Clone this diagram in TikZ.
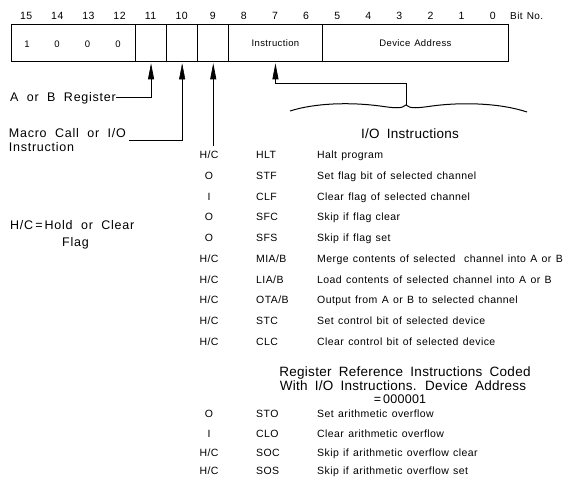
\documentclass[tikz,border=0pt]{standalone}
\usepackage{fontspec}
\setmainfont{Liberation Sans}
\newfontfamily\trk[LetterSpace=4,WordSpace=1.3]{Liberation Sans}
\newfontfamily\ttk[LetterSpace=2,WordSpace=1.8]{Liberation Sans}
\newfontfamily\lbk[LetterSpace=6,WordSpace=2]{Liberation Sans}
\newfontfamily\btk[LetterSpace=5,WordSpace=1.5]{Liberation Sans}
\usetikzlibrary{arrows.meta}
\newcommand\bitfont{\btk\fontsize{10.5}{12}\selectfont}
\newcommand\boxfont{\trk\fontsize{9.5}{11}\selectfont}
\newcommand\tblfont{\trk\fontsize{10.5}{12}\selectfont}
\newcommand\ttlfont{\ttk\fontsize{13.5}{15}\selectfont}
\newcommand\labfont{\lbk\fontsize{12.5}{14}\selectfont}
\begin{document}
\begin{tikzpicture}[x=1pt,y=-1pt,
  field/.style={draw, line width=0.8pt, minimum height=37pt, inner sep=0pt, anchor=north west, font=\boxfont},
  txt/.style={inner sep=0pt, text height=7pt, text depth=0pt},
  bitlab/.style={txt, font=\bitfont, text height=7.5pt},
  tbl/.style={txt, font=\tblfont, text height=7.6pt},
  flg/.style={tbl},
  mn/.style={tbl, anchor=west},
  ds/.style={tbl, anchor=west},
  ttl/.style={txt, font=\ttlfont, text height=9.7pt},
  lab/.style={txt, font=\labfont, text height=9pt},
  arr/.style={-{Triangle[width=6pt,length=16pt]}, line width=0.7pt},
  conn/.style={line width=0.7pt}]
\useasboundingbox (0,0) rectangle (563,479);
% register fields
\node[field, minimum width=124.4pt] (f1512) at (10.7,24) {};
\node[field, minimum width=31.1pt] (f11) at (135.1,24) {};
\node[field, minimum width=31.1pt] (f10) at (166.2,24) {};
\node[field, minimum width=31.1pt] (f9) at (197.3,24) {};
\node[field, minimum width=93.3pt] (f86) at (228.4,24) {Instruction};
\node[field, minimum width=186.6pt] (f50) at (321.7,24) {Device Address};
% fixed bits
\node[txt, font=\boxfont, text height=7pt] (d15) at (27,44) {1};
\node[txt, font=\boxfont, text height=7pt] (d14) at (57,44) {0};
\node[txt, font=\boxfont, text height=7pt] (d13) at (87.5,44) {0};
\node[txt, font=\boxfont, text height=7pt] (d12) at (118,44) {0};
% bit numbers
\foreach \i in {0,...,15} {
  \node[bitlab] (b\i) at ({492.7-31.1*\i},16) {\i};
}
\node[bitlab, anchor=west, font=\trk\fontsize{10}{12}\selectfont] (bitno) at (510,16) {Bit No.};
% left labels
\node[lab, anchor=east] (lab) at (116,97) {A or B Register};
\node[lab, anchor=east, align=left, text height=, text depth=] (lmacro) at (126,140) {Macro Call or I/O\\Instruction};
\node[lab, anchor=west] (lhc) at (10,225) {H/C\,=\,Hold or Clear};
\node[lab, anchor=west] (lflag) at (62,242) {Flag};
\draw[arr] (lab.east) -| ([yshift=-1.5pt]f11.south);
\draw[arr, line width=0.5pt] ([xshift=3pt]lmacro.east) -| ([yshift=-1.5pt]f10.south);
% I/O instructions
\node[ttl] (iot) at (410,134) {I/O Instructions};
\coordinate (cusp) at (406,105);
\coordinate (elbow) at (406,83);
\draw[line width=1pt] (290,111) .. controls (315,103) and (350,102) .. (380,106)
   .. controls (394,108) and (402,109) .. (cusp)
   .. controls (410,109) and (418,108) .. (432,106)
   .. controls (462,102) and (500,103) .. (527,112);
\draw[arr] (cusp) -- (elbow) -| ([yshift=-1.5pt]f86.south);
% I/O table
\node[flg] (g1) at (209,155.0) {H/C};
\node[mn] (m1) at (256,155.0) {HLT};
\node[ds] (t1) at (317,155.0) {Halt program};
\node[flg] (g2) at (209,175.7) {O};
\node[mn] (m2) at (256,175.7) {STF};
\node[ds] (t2) at (317,175.7) {Set flag bit of selected channel};
\node[flg] (g3) at (209,196.4) {I};
\node[mn] (m3) at (256,196.4) {CLF};
\node[ds] (t3) at (317,196.4) {Clear flag of selected channel};
\node[flg] (g4) at (209,217.1) {O};
\node[mn] (m4) at (256,217.1) {SFC};
\node[ds] (t4) at (317,217.1) {Skip if flag clear};
\node[flg] (g5) at (209,237.8) {O};
\node[mn] (m5) at (256,237.8) {SFS};
\node[ds] (t5) at (317,237.8) {Skip if flag set};
\node[flg] (g6) at (209,258.5) {H/C};
\node[mn] (m6) at (256,258.5) {MIA/B};
\node[ds] (t6) at (317,258.5) {Merge contents of selected\ \ channel into A or B};
\node[flg] (g7) at (209,279.2) {H/C};
\node[mn] (m7) at (256,279.2) {LIA/B};
\node[ds] (t7) at (317,279.2) {Load contents of selected channel into A or B};
\node[flg] (g8) at (209,299.9) {H/C};
\node[mn] (m8) at (256,299.9) {OTA/B};
\node[ds] (t8) at (317,299.9) {Output from A or B to selected channel};
\node[flg] (g9) at (209,320.6) {H/C};
\node[mn] (m9) at (256,320.6) {STC};
\node[ds] (t9) at (317,320.6) {Set control bit of selected device};
\node[flg] (g10) at (209,341.3) {H/C};
\node[mn] (m10) at (256,341.3) {CLC};
\node[ds] (t10) at (317,341.3) {Clear control bit of selected device};
\draw[arr] (f9.south |- g1.north) ++(0,-5) -- ([yshift=-1.5pt]f9.south);
% register reference instructions
\node[ttl] (rr1) at (405,372) {Register Reference Instructions Coded};
\node[ttl] (rr2) at (403,385.5) {With I/O Instructions. Device Address};
\node[ttl, font=\ttk\fontsize{12.5}{14}\selectfont, text height=9pt] (rr3) at (400,399) {=\,000001};
\node[flg] (h1) at (209,414) {O};
\node[mn] (n1) at (256,414) {STO};
\node[ds] (u1) at (317,414) {Set arithmetic overflow};
\node[flg] (h2) at (209,433.5) {I};
\node[mn] (n2) at (256,433.5) {CLO};
\node[ds] (u2) at (317,433.5) {Clear arithmetic overflow};
\node[flg] (h3) at (209,452.5) {H/C};
\node[mn] (n3) at (256,452.5) {SOC};
\node[ds] (u3) at (317,452.5) {Skip if arithmetic overflow clear};
\node[flg] (h4) at (209,471) {H/C};
\node[mn] (n4) at (256,471) {SOS};
\node[ds] (u4) at (317,471) {Skip if arithmetic overflow set};
\end{tikzpicture}
\end{document}
